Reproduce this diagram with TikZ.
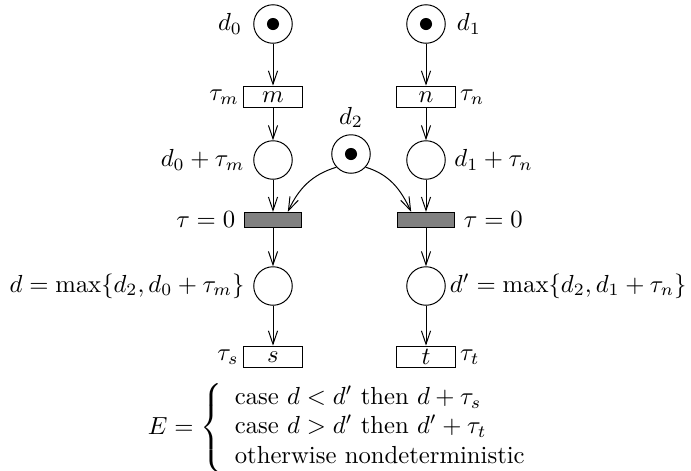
\documentclass[tikz,border=0pt]{standalone}
\usetikzlibrary{arrows.meta}
\begin{document}
\begin{tikzpicture}[x=0.405pt,y=-0.405pt,
  place/.style={circle,draw,minimum size=15.6pt,inner sep=0pt,line width=0.4pt},
  tok/.style={circle,fill=black,minimum size=4.9pt,inner sep=0pt},
  trans/.style={draw,minimum width=23.5pt,minimum height=8.8pt,inner sep=0pt,line width=0.4pt},
  imm/.style={draw,fill=gray,minimum width=23.2pt,minimum height=6.2pt,inner sep=0pt,line width=0.4pt},
  arc/.style={-{Straight Barb[length=5.4pt,width=3.7pt]},line width=0.4pt}]
\useasboundingbox (0,0) rectangle (691,470);
% top places
\node[place,label={[label distance=1pt]left:$d_0$}] (p0) at (273,24) {};
\node[tok] (k0) at (p0) {};
\node[place,label={[label distance=1pt]right:$d_1$}] (p1) at (426,24) {};
\node[tok] (k1) at (p1) {};
% timed transitions
\node[trans,label={[inner sep=1.7pt]left:$\tau_m$}] (m) at (273,97) {$m$};
\node[trans,label={[inner sep=1.7pt]right:$\tau_n$}] (n) at (426,97) {$n$};
% middle places
\node[place,label={left:$d_0+\tau_m$}] (q0) at (273,160) {};
\node[place,label={right:$d_1+\tau_n$}] (q1) at (426,160) {};
\node[place,label={[label distance=-1pt]above:$d_2$}] (p2) at (351,154) {};
\node[tok] (k2) at (p2) {};
% immediate transitions
\node[imm,label={left:$\tau=0$}] (g0) at (273,220) {};
\node[imm,label={right:$\tau=0$}] (g1) at (426,220) {};
% lower places
\node[place,label={left:$d=\max\{d_2,d_0+\tau_m\}$}] (r0) at (273,286) {};
\node[place,label={[inner sep=1.5pt]right:$d'=\max\{d_2,d_1+\tau_n\}$}] (r1) at (426,286) {};
% final transitions
\node[trans,label={[inner sep=1.7pt]left:$\tau_s$}] (s) at (273,357) {$s$};
\node[trans,label={[inner sep=1.7pt]right:$\tau_t$}] (t) at (426,357) {$t$};
% arcs
\draw[arc] (p0) -- (m);
\draw[arc] (p1) -- (n);
\draw[arc] (m) -- (q0);
\draw[arc] (n) -- (q1);
\draw[arc] (q0) -- (g0);
\draw[arc] (q1) -- (g1);
\draw[arc] (g0) -- (r0);
\draw[arc] (g1) -- (r1);
\draw[arc] (r0) -- (s);
\draw[arc] (r1) -- (t);
\draw[arc] (p2.222) to[out=197,in=65] ([xshift=6pt]g0.north);
\draw[arc] (p2.-42) to[out=-17,in=115] ([xshift=-6pt]g1.north);
% equation
\node[inner sep=0pt] (eq) at (344,428) {$E=\left\{\begin{array}{l}\mbox{case } d<d' \mbox{ then } d+\tau_s\\ \mbox{case } d>d' \mbox{ then } d'+\tau_t\\ \mbox{otherwise nondeterministic}\end{array}\right.$};
\end{tikzpicture}
\end{document}
